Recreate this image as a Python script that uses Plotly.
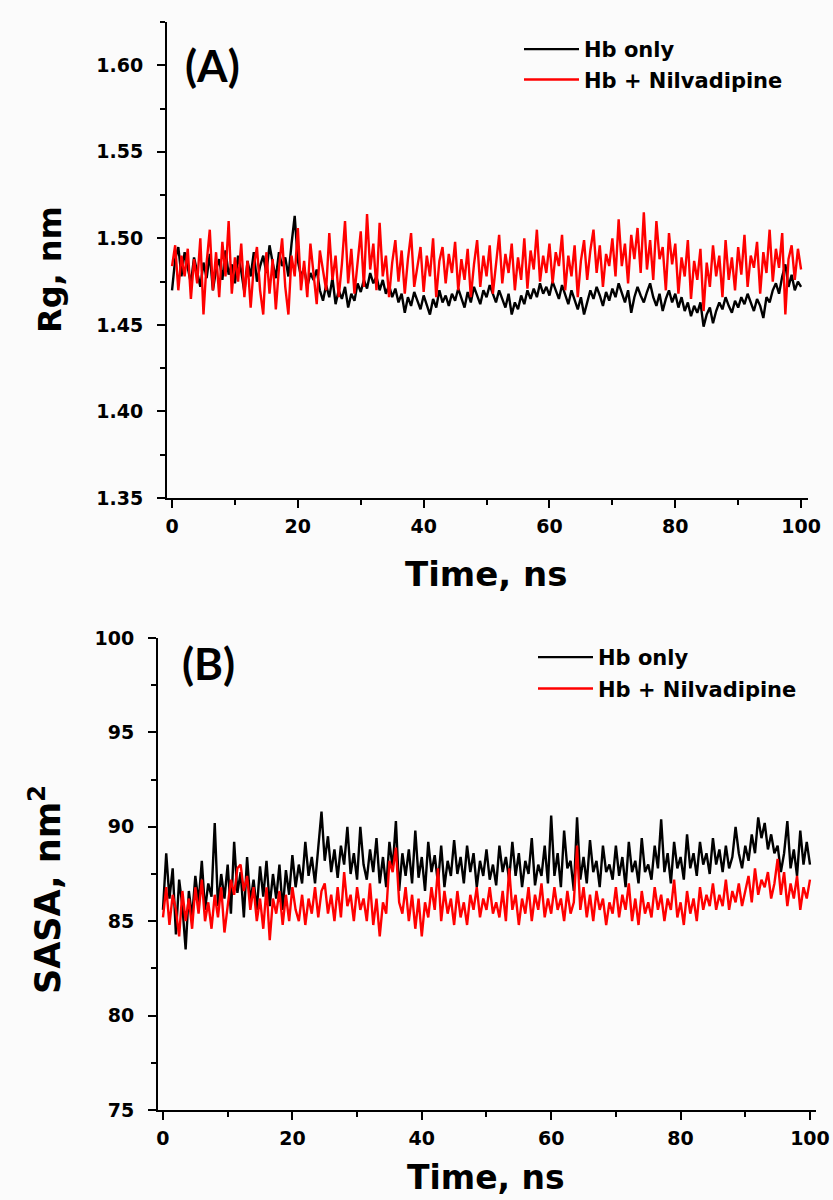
import plotly.graph_objects as go

# ---------------- data (0.5 ns sampling) ----------------
time_ns = [i * 0.5 for i in range(201)]

rg_hb = [
    1.470,1.488,1.495,1.478,1.492,1.483,1.474,1.489,1.480,1.472,
    1.486,1.477,1.491,1.470,1.482,1.488,1.476,1.493,1.479,1.485,
    1.474,1.490,1.481,1.469,1.487,1.478,1.492,1.475,1.484,1.490,
    1.480,1.496,1.486,1.477,1.492,1.484,1.489,1.478,1.497,1.513,
    1.487,1.478,1.483,1.472,1.480,1.476,1.482,1.470,1.464,1.473,
    1.466,1.477,1.462,1.470,1.465,1.472,1.460,1.468,1.464,1.474,
    1.469,1.476,1.471,1.480,1.474,1.478,1.470,1.476,1.468,1.473,
    1.466,1.471,1.463,1.468,1.457,1.466,1.461,1.469,1.464,1.459,
    1.467,1.462,1.456,1.465,1.460,1.470,1.463,1.467,1.461,1.468,
    1.464,1.471,1.466,1.460,1.469,1.463,1.472,1.467,1.462,1.470,
    1.466,1.473,1.468,1.463,1.470,1.465,1.460,1.468,1.456,1.463,
    1.459,1.467,1.462,1.470,1.465,1.471,1.466,1.474,1.468,1.472,
    1.467,1.475,1.470,1.465,1.473,1.468,1.462,1.470,1.465,1.459,
    1.466,1.456,1.463,1.470,1.465,1.472,1.467,1.461,1.469,1.464,
    1.471,1.466,1.474,1.468,1.463,1.470,1.457,1.466,1.472,1.467,
    1.463,1.469,1.474,1.466,1.461,1.468,1.458,1.465,1.470,1.463,
    1.468,1.460,1.466,1.458,1.463,1.455,1.461,1.457,1.463,1.449,
    1.456,1.460,1.451,1.458,1.463,1.459,1.466,1.461,1.457,1.464,
    1.460,1.466,1.462,1.468,1.463,1.458,1.465,1.461,1.454,1.466,
    1.463,1.470,1.474,1.468,1.478,1.485,1.472,1.479,1.470,1.475,
    1.472,
]

rg_hb_nil = [
    1.484,1.496,1.470,1.490,1.478,1.494,1.465,1.488,1.474,1.500,
    1.456,1.486,1.505,1.470,1.492,1.466,1.498,1.478,1.510,1.468,
    1.489,1.475,1.497,1.466,1.487,1.460,1.484,1.495,1.470,1.456,
    1.492,1.468,1.488,1.459,1.483,1.500,1.472,1.456,1.490,1.478,
    1.506,1.470,1.487,1.466,1.497,1.478,1.462,1.493,1.482,1.470,
    1.503,1.476,1.490,1.466,1.485,1.510,1.474,1.494,1.468,1.488,
    1.504,1.472,1.514,1.482,1.497,1.470,1.509,1.478,1.490,1.466,
    1.486,1.499,1.475,1.493,1.468,1.488,1.503,1.472,1.485,1.495,
    1.469,1.490,1.478,1.500,1.466,1.487,1.495,1.474,1.491,1.480,
    1.498,1.470,1.488,1.476,1.494,1.466,1.485,1.499,1.472,1.490,
    1.478,1.496,1.468,1.487,1.502,1.474,1.491,1.480,1.497,1.470,
    1.489,1.476,1.500,1.471,1.493,1.482,1.505,1.475,1.490,1.480,
    1.497,1.474,1.492,1.484,1.502,1.470,1.490,1.478,1.496,1.466,
    1.487,1.499,1.476,1.493,1.505,1.480,1.496,1.472,1.491,1.484,
    1.500,1.478,1.511,1.484,1.497,1.474,1.502,1.488,1.506,1.480,
    1.515,1.482,1.499,1.476,1.510,1.488,1.495,1.470,1.503,1.485,
    1.497,1.468,1.489,1.478,1.499,1.465,1.487,1.476,1.494,1.458,
    1.486,1.472,1.496,1.478,1.490,1.466,1.499,1.476,1.489,1.470,
    1.495,1.479,1.502,1.472,1.490,1.483,1.498,1.468,1.492,1.480,
    1.505,1.475,1.494,1.483,1.503,1.456,1.488,1.496,1.476,1.494,
    1.482,
]

sasa_hb = [
    85.6,88.6,86.2,87.8,84.3,87.2,85.8,83.5,86.6,85.2,
    87.4,86.0,88.2,85.6,87.0,86.3,90.2,85.8,87.5,86.2,
    88.0,85.4,89.2,86.5,87.6,85.2,88.4,86.0,87.2,85.6,
    87.9,86.3,88.2,85.8,87.5,86.2,88.0,85.6,87.7,86.4,
    88.5,86.8,88.0,87.0,89.2,87.4,88.4,87.0,88.9,90.8,
    88.2,89.5,87.6,88.8,87.3,89.0,88.0,90.0,87.5,88.6,
    87.2,90.0,88.0,87.2,88.8,87.6,89.4,87.0,88.4,86.8,
    89.2,87.8,90.3,86.6,88.6,87.4,88.8,87.0,89.8,87.3,
    88.4,86.6,89.2,87.6,88.5,87.0,89.0,86.8,88.2,87.4,
    89.3,87.5,88.4,87.0,89.0,87.6,88.6,86.8,88.2,87.4,
    88.8,87.2,88.0,86.9,89.0,87.6,88.4,87.2,89.2,87.4,
    88.6,86.8,88.2,87.5,89.4,86.9,88.0,87.4,89.0,87.0,
    90.6,87.4,88.6,86.8,89.8,87.8,88.2,86.6,90.5,87.2,
    88.4,87.0,89.3,87.6,88.2,86.8,89.0,87.6,88.0,87.2,
    89.0,87.4,88.4,86.8,89.2,87.6,88.2,87.0,89.4,87.6,
    88.0,87.2,89.0,87.8,90.4,87.6,88.6,87.0,89.2,87.8,
    88.4,87.2,89.6,87.8,88.6,87.4,89.2,88.0,88.6,87.5,
    89.4,88.0,88.8,87.6,89.0,87.8,88.4,90.0,88.6,87.8,
    89.0,88.2,89.6,88.6,90.5,89.4,90.2,88.8,89.6,88.6,
    89.0,87.6,88.6,90.3,87.8,88.8,87.4,89.8,88.0,89.2,
    88.0,
]

sasa_hb_nil = [
    85.2,86.8,84.8,86.4,85.6,84.2,86.6,85.0,86.2,84.6,
    86.8,85.4,87.2,85.0,86.0,84.6,86.4,85.2,86.8,84.4,
    85.8,87.2,86.4,87.8,88.0,86.6,87.4,85.6,86.8,85.0,
    86.2,84.6,86.8,84.0,86.2,85.4,86.6,84.8,86.4,85.0,
    86.8,85.6,85.0,86.4,84.8,86.2,85.4,86.8,85.2,86.6,
    87.0,85.4,86.4,85.0,86.8,85.2,87.6,85.8,86.4,85.0,
    86.8,85.6,86.2,85.0,87.0,84.8,86.2,84.2,86.0,85.4,
    88.2,87.6,88.9,86.0,85.4,86.8,85.0,86.4,84.6,86.2,
    84.2,86.0,85.2,86.8,85.6,87.8,85.0,86.6,85.4,86.2,
    84.8,86.6,85.2,86.0,84.8,86.4,85.6,86.8,85.2,86.2,
    85.6,86.8,85.4,86.0,85.2,86.6,85.0,87.8,85.6,86.4,
    84.8,86.2,85.4,86.8,85.0,86.4,85.6,87.0,85.2,86.2,
    85.4,86.8,85.6,86.2,85.0,86.6,85.4,86.0,89.0,85.6,
    86.8,85.2,86.4,85.0,86.6,85.6,86.2,84.8,86.0,85.4,
    86.8,85.2,86.4,85.6,87.0,85.0,86.2,84.8,86.6,85.4,
    86.0,85.2,86.8,85.6,86.4,85.0,86.2,85.6,87.2,85.2,
    86.0,84.8,86.6,85.4,86.2,85.0,86.8,85.6,86.4,85.8,
    87.0,85.6,86.4,85.8,87.2,85.6,86.6,86.0,87.0,85.8,
    86.6,87.4,86.0,87.8,86.4,87.2,86.8,87.6,86.2,87.0,
    88.3,86.4,87.6,85.8,87.0,86.2,87.4,85.6,86.8,86.2,
    87.2,
]

series_names = ["Hb only", "Hb + Nilvadipine"]
x_ticks = [0, 20, 40, 60, 80, 100]

# ---------------- figure ----------------
W, H = 833, 1200
FONT = "DejaVu Sans"
LW = 2.4

def px_x(p):
    return p / W

def px_y(p):
    return 1 - p / H

fig = go.Figure()

fig.add_trace(go.Scatter(x=time_ns, y=rg_hb, mode="lines", name=series_names[0],
                         line=dict(color="black", width=LW),
                         xaxis="x", yaxis="y", legend="legend", legendgroup="a1"))
fig.add_trace(go.Scatter(x=time_ns, y=rg_hb_nil, mode="lines", name=series_names[1],
                         line=dict(color="#ff0000", width=LW),
                         xaxis="x", yaxis="y", legend="legend", legendgroup="a2"))
fig.add_trace(go.Scatter(x=time_ns, y=sasa_hb, mode="lines", name=series_names[0],
                         line=dict(color="black", width=LW),
                         xaxis="x2", yaxis="y2", legend="legend2", legendgroup="b1"))
fig.add_trace(go.Scatter(x=time_ns, y=sasa_hb_nil, mode="lines", name=series_names[1],
                         line=dict(color="#ff0000", width=LW),
                         xaxis="x2", yaxis="y2", legend="legend2", legendgroup="b2"))

axis_common = dict(
    showline=True, linewidth=2, linecolor="black", mirror=False,
    ticks="outside", ticklen=8, tickwidth=2, tickcolor="black",
    showgrid=False, zeroline=False, automargin=False,
    tickfont=dict(family=FONT, size=19, color="black", weight="bold"),
)

legend_font = dict(family=FONT, size=21, color="black", weight="bold")

fig.update_layout(
    width=W, height=H,
    margin=dict(l=0, r=0, t=0, b=0, pad=0, autoexpand=False),
    paper_bgcolor="#fbfbfb",
    plot_bgcolor="rgba(0,0,0,0)",
    showlegend=True,
    xaxis=dict(domain=[px_x(167), px_x(808)], range=[-0.8, 101.1], anchor="y",
               tickvals=x_ticks, ticklabelstandoff=2,
               minor=dict(dtick=10, tick0=0, ticks="outside", ticklen=5,
                          tickwidth=2, tickcolor="black", showgrid=False),
               **axis_common),
    yaxis=dict(domain=[px_y(498), px_y(22)], range=[1.35, 1.625], anchor="x",
               dtick=0.05, tick0=1.35, tickformat=".2f", ticklabelstandoff=10,
               minor=dict(dtick=0.025, tick0=1.35, ticks="outside", ticklen=5,
                          tickwidth=2, tickcolor="black", showgrid=False),
               **axis_common),
    xaxis2=dict(domain=[px_x(158), px_x(816)], range=[-0.77, 100.93], anchor="y2",
                tickvals=x_ticks, ticklabelstandoff=2,
                minor=dict(dtick=10, tick0=0, ticks="outside", ticklen=5,
                           tickwidth=2, tickcolor="black", showgrid=False),
                **axis_common),
    yaxis2=dict(domain=[px_y(1110), px_y(638)], range=[75, 100], anchor="x2",
                dtick=5, tick0=75, ticklabelstandoff=10,
                minor=dict(dtick=2.5, tick0=75, ticks="outside", ticklen=5,
                           tickwidth=2, tickcolor="black", showgrid=False),
                **axis_common),
    legend=dict(x=px_x(519), y=px_y(29), xanchor="left", yanchor="top",
                bgcolor="rgba(0,0,0,0)", tracegroupgap=0, itemwidth=55,
                font=legend_font),
    legend2=dict(x=px_x(533), y=px_y(637), xanchor="left", yanchor="top",
                 bgcolor="rgba(0,0,0,0)", tracegroupgap=1, itemwidth=55,
                 font=legend_font),
)

annotations = [
    dict(text="<b>(A)</b>", x=px_x(212), y=px_y(65), font=dict(family="Lato", size=44, color="black")),
    dict(text="<b>(B)</b>", x=px_x(208), y=px_y(663), font=dict(family="Lato", size=44, color="black")),
    dict(text="<b>Time, ns</b>", x=px_x(486), y=px_y(574), font=dict(family=FONT, size=34, color="black")),
    dict(text="<b>Time, ns</b>", x=px_x(486), y=px_y(1177), font=dict(family=FONT, size=33, color="black")),
    dict(text="<b>Rg, nm</b>", x=px_x(50), y=px_y(270), textangle=-90,
         font=dict(family=FONT, size=32, color="black")),
    dict(text="<b>SASA, nm<sup>2</sup></b>", x=px_x(45), y=px_y(890), textangle=-90,
         font=dict(family=FONT, size=35, color="black")),
]
for a in annotations:
    a.update(xref="paper", yref="paper", xanchor="center", yanchor="middle", showarrow=False)
fig.update_layout(annotations=annotations)

fig.write_html("out.html")
